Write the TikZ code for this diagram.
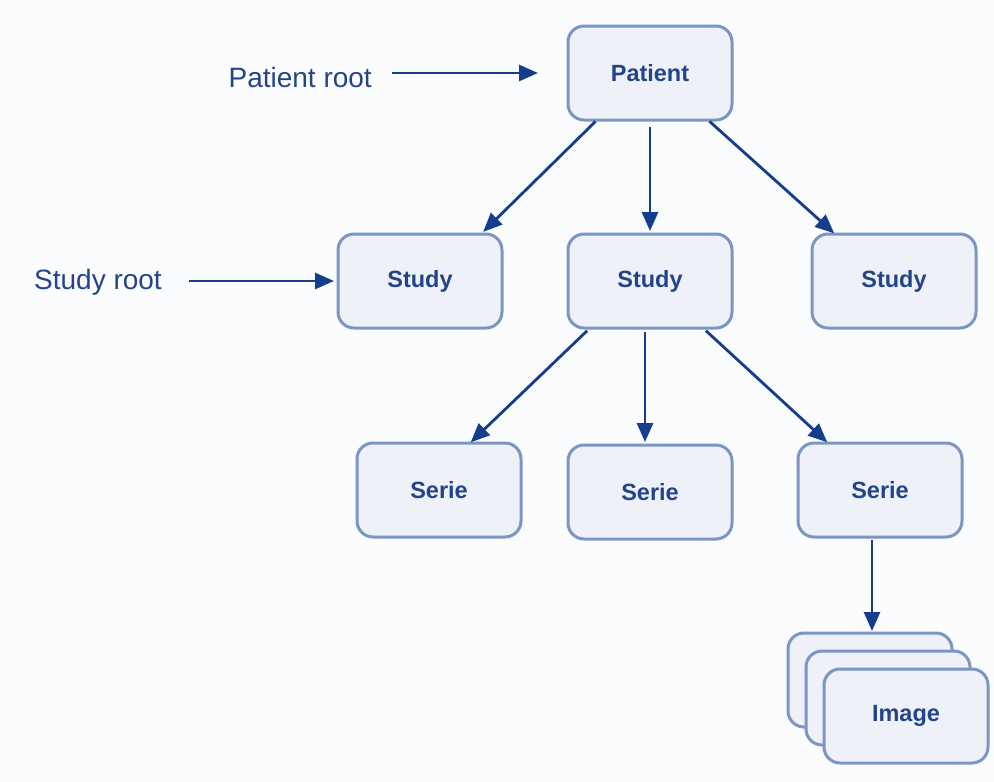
\documentclass[tikz,border=0pt]{standalone}
\usepackage{fontspec}
\setmainfont{Liberation Sans}
\usetikzlibrary{arrows.meta}
\definecolor{bgcol}{HTML}{FBFCFE}
\definecolor{boxfill}{HTML}{EEF1F7}
\definecolor{boxline}{HTML}{7C96C3}
\definecolor{txtcol}{HTML}{23448A}
\definecolor{arrcol}{HTML}{143D8C}
\begin{document}
\begin{tikzpicture}[x=1pt,y=-1pt,
  entity/.style={draw=boxline, fill=boxfill, line width=3pt, rounded corners=16pt,
    minimum width=164pt, minimum height=94pt, outer sep=0pt,
    text=txtcol, font=\fontsize{23.5}{26}\selectfont\bfseries},
  rootlabel/.style={inner sep=0pt, text=txtcol, font=\fontsize{28}{32}\selectfont},
  link/.style={draw=arrcol, line width=2.8pt,
    -{Triangle[length=19pt,width=16pt]}}]
  % page background
  \fill[bgcol] (0,0) rectangle (994,782);
  \useasboundingbox (0,0) rectangle (994,782);

  % hierarchy levels
  \node[entity] (p)  at (650,73)  {Patient};
  \node[entity] (s1) at (420,281) {Study};
  \node[entity] (s2) at (650,281) {Study};
  \node[entity] (s3) at (894,281) {Study};
  \node[entity] (r1) at (439,490) {Serie};
  \node[entity] (r2) at (650,492) {Serie};
  \node[entity] (r3) at (880,490) {Serie};
  % stacked images, back to front
  \node[entity] (i1) at (870,680) {};
  \node[entity] (i2) at (888,698) {};
  \node[entity] (i3) at (906,716) {Image};

  % query roots
  \node[rootlabel, anchor=east] (pr) at (372,77) {Patient root};
  \node[rootlabel, anchor=east] (sr) at (162,282) {Study root};

  \draw[link, shorten <=20pt, shorten >=30pt] (pr.east |- p.west) -- (p.west);
  \draw[link, shorten <=27pt, shorten >=4pt] (sr.east |- s1.west) -- (s1.west);

  % patient -> studies
  \draw[link, shorten <=2pt, shorten >=3pt] ([xshift=-53pt]p.south) -- ([xshift=-21pt]s1.north east);
  \draw[link, shorten <=7pt, shorten >=3pt] (p.south) -- (s2.north);
  \draw[link, shorten <=2pt, shorten >=1pt] ([xshift=58pt]p.south) -- ([xshift=-59pt]s3.north);

  % study -> series
  \draw[link, shorten <=4pt, shorten >=1pt] ([xshift=-60pt]s2.south) -- ([xshift=-51pt]r1.north east);
  \draw[link, shorten <=4pt, shorten >=3pt] ([xshift=-5pt]s2.south) -- ([xshift=-5pt]r2.north);
  \draw[link, shorten <=4pt, shorten >=1pt] ([xshift=53pt]s2.south) -- ([xshift=-52pt]r3.north);

  % serie -> images
  \draw[link, shorten <=3pt, shorten >=2pt] ([xshift=-8pt]r3.south) -- ([xshift=2pt]i1.north);
\end{tikzpicture}
\end{document}
